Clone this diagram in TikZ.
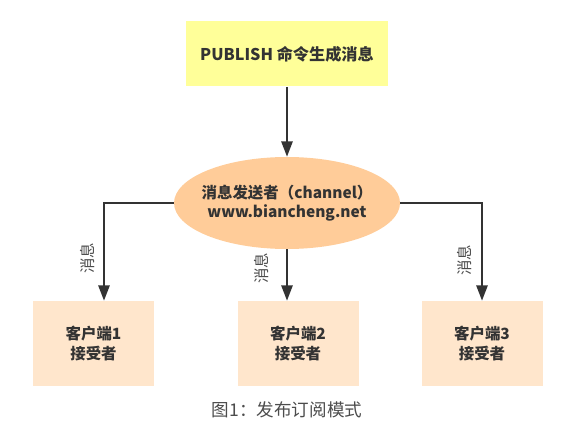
\documentclass[tikz,border=0pt]{standalone}
\usepackage{fontspec}
\setmainfont{Noto Sans CJK SC}
\usetikzlibrary{arrows.meta,shapes.geometric}
\definecolor{boxyellow}{HTML}{FFFF99}
\definecolor{ellorange}{HTML}{FFCC99}
\definecolor{clientpeach}{HTML}{FFE6CC}
\definecolor{linegray}{HTML}{333333}
\tikzset{
	client/.style={fill=clientpeach, minimum width=3.025cm, minimum height=2.125cm, align=center, font=\bfseries\fontsize{11}{14}\selectfont, text=linegray},
	msgline/.style={line width=1.6pt, color=linegray, -{Triangle[length=11pt,width=8pt]}},
	msglabel/.style={rotate=90, font=\fontsize{11}{12}\selectfont, text=black!70}
}

\begin{document}
\begin{tikzpicture}
		%%%%% START %%%%%
		\useasboundingbox (0, 0) rectangle (14.525, 11.05);
		
		\node[fill=boxyellow, minimum width=5.05cm, minimum height=1.625cm, font=\bfseries\fontsize{11.5}{14}\selectfont, text=linegray] (pub) at (7.175, 9.7) {PUBLISH 命令生成消息};
		
		\node[ellipse, fill=ellorange, minimum width=5.65cm, minimum height=2.3cm, inner sep=0pt] (chan) at (7.175, 5.975) {};
		\node[align=center, font=\bfseries\fontsize{11}{14}\selectfont, text=linegray] (chantxt) at (chan) {消息发送者（channel）\\www.biancheng.net};
		
		\node[client] (c1) at (2.3375, 2.4625) {客户端1\\接受者};
		\node[client] (c2) at (7.45, 2.4625) {客户端2\\接受者};
		\node[client] (c3) at (12.05, 2.4625) {客户端3\\接受者};
		
		\draw[msgline] (pub) -- (chan);
		\draw[msgline] (chan.west) -| ([xshift=0.2625cm]c1.north);
		\draw[msgline] (chan.south) -- (chan.south |- c2.north);
		\draw[msgline] (chan.east) -| (c3.north);
		
		\node[msglabel] (m1) at (2.2, 4.6) {消息};
		\node[msglabel] (m2) at (6.55, 4.35) {消息};
		\node[msglabel] (m3) at (11.625, 4.55) {消息};
		
		\node[font=\fontsize{12.5}{14}\selectfont, text=black!70] (cap) at (7.175, 0.8) {图1：发布订阅模式};
		%%%%% END %%%%%
	\end{tikzpicture}
\end{document}
